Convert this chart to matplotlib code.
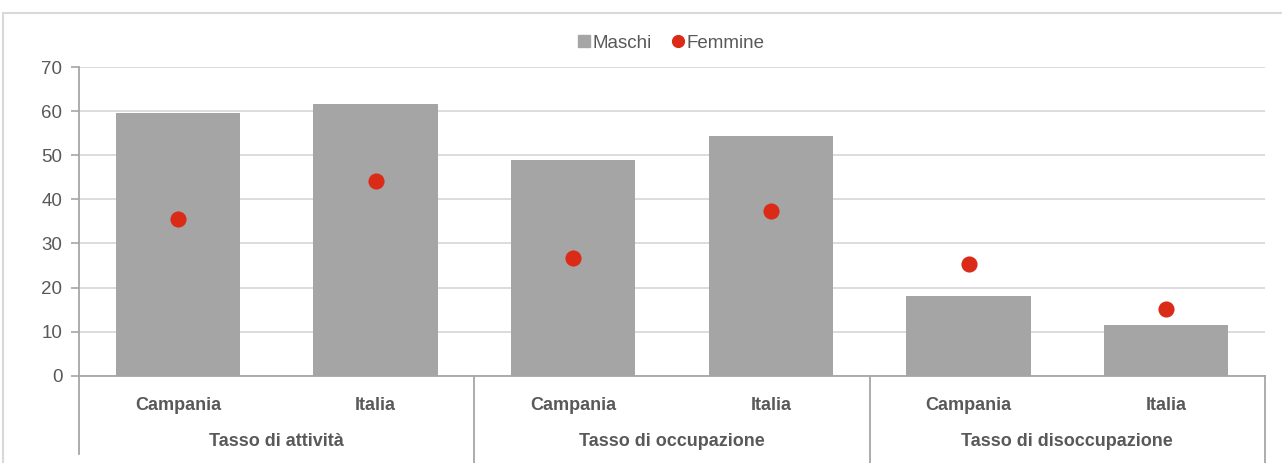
import matplotlib
matplotlib.use("Agg")
import matplotlib.pyplot as plt
from matplotlib.lines import Line2D
from matplotlib.patches import Rectangle
import numpy as np

plt.rcParams['font.family'] = ['Liberation Sans', 'DejaVu Sans']

# data
groups = ["Tasso di attività", "Tasso di occupazione", "Tasso di disoccupazione"]
areas = ["Campania", "Italia"]
maschi = [59.6, 61.6, 48.8, 54.4, 18.1, 11.5]
femmine = [35.5, 44.1, 26.6, 37.3, 25.3, 15.1]

W, H = 1282, 463
fig = plt.figure(figsize=(W / 100, H / 100), dpi=100)

# outer frame of the chart area
fig.patches.append(Rectangle((3 / W, -0.05), 1.1, 1 - 13 / H + 0.05,
                             transform=fig.transFigure, fill=False,
                             edgecolor="#d9d9d9", linewidth=1.5))

ax = fig.add_axes([79 / W, (H - 375.7) / H, (1265 - 79) / W, (375.7 - 67) / H])

txt = "#595959"
fs = 13
x = np.arange(len(maschi))
ax.bar(x, maschi, width=0.63, color="#a5a5a5", zorder=2)
ax.scatter(x, femmine, s=135, color="#d92b17", zorder=3, linewidths=0)

ax.set_xlim(-0.5, len(maschi) - 0.5)
ax.set_ylim(0, 70)
ax.set_yticks(range(0, 71, 10))
ax.yaxis.grid(True, color="#d9d9d9", linewidth=1.3, zorder=0)
ax.tick_params(axis="y", length=6, width=1.2, color="#a6a6a6",
               labelsize=fs + 0.5, labelcolor=txt, pad=6)
for s in ("top", "right"):
    ax.spines[s].set_visible(False)
for s in ("left", "bottom"):
    ax.spines[s].set_color("#a6a6a6")
    ax.spines[s].set_linewidth(1.3)

ax.set_xticks(x)
ax.set_xticklabels(areas * len(groups), fontsize=fs, fontweight="bold",
                   color=txt)
ax.tick_params(axis="x", length=0, pad=15)

# group labels and separators under the axis
tr = ax.get_xaxis_transform()
px = 1 / (375.7 - 67)
for i, g in enumerate(groups):
    ax.text(2 * i + 0.5, -(442 - 375.7) * px, g, transform=tr, ha="center",
            va="center", fontsize=fs, fontweight="bold", color=txt)
for i in range(len(groups) + 1):
    bottom = -(454 - 375.7) * px if i == 0 else -(470 - 375.7) * px
    ax.add_line(Line2D([2 * i - 0.5] * 2, [0, bottom], transform=tr,
                       color="#a6a6a6", linewidth=1.3, clip_on=False))

handles = [
    Line2D([], [], marker="s", linestyle="none", color="#a5a5a5",
           markersize=8, label="Maschi"),
    Line2D([], [], marker="o", linestyle="none", color="#d92b17",
           markersize=8.5, label="Femmine"),
]
fig.legend(handles=handles, loc="center", ncol=2, frameon=False,
           bbox_to_anchor=(671 / W, 1 - 43 / H), fontsize=fs + 0.5,
           handlelength=0.6, handletextpad=0.15, columnspacing=1.1,
           labelcolor=txt)

fig.savefig("out.png", dpi=100)
